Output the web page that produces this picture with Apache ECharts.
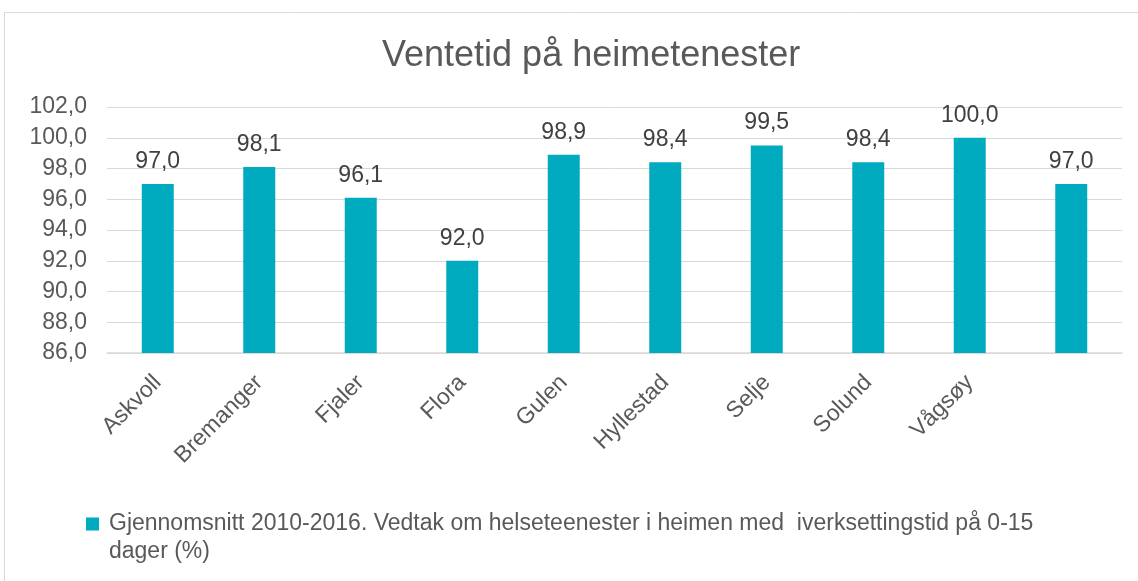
<!DOCTYPE html>
<html>
<head>
<meta charset="utf-8">
<script src="https://cdn.jsdelivr.net/npm/echarts@6/dist/echarts.min.js"></script>
<style>
  html, body { margin: 0; padding: 0; background: #fff; }
  #chart { width: 1138px; height: 581px; }
</style>
</head>
<body>
<div id="chart"></div>
<script>
// data
const categories = ['Askvoll', 'Bremanger', 'Fjaler', 'Flora', 'Gulen', 'Hyllestad', 'Selje', 'Solund', 'Vågsøy', '']
const values = [97.0, 98.1, 96.1, 92.0, 98.9, 98.4, 99.5, 98.4, 100.0, 97.0]
const seriesName = 'Gjennomsnitt 2010-2016. Vedtak om helseteenester i heimen med  iverksettingstid på 0-15 dager (%)'
const yMin = 86
const yMax = 102
const yStep = 2

const font = '"Liberation Sans", Arial, sans-serif'
const comma = v => Number(v).toFixed(1).replace('.', ',')

// legend marker: 13px square at the top of a 13x41 box, so it lines up with the first text line
const legendIcon = 'path://M0,0H13V13H0Z M0,40.99H0.01V41H0Z'

const chart = echarts.init(document.getElementById('chart'), null, { renderer: 'canvas' })

chart.setOption({
  animation: false,
  textStyle: { fontFamily: font },
  title: {
    text: 'Ventetid på heimetenester',
    left: 377,
    top: 33,
    textStyle: { fontFamily: font, fontSize: 36, fontWeight: 'normal', color: '#595959' }
  },
  graphic: [{
    type: 'rect',
    shape: { x: 4.5, y: 12.5, width: 1150, height: 600 },
    style: { fill: 'none', stroke: '#d9d9d9', lineWidth: 1 },
    silent: true
  }],
  grid: {
    left: 107,
    right: 16,
    top: 107,
    bottom: 228,
    containLabel: false
  },
  legend: {
    left: 86,
    top: 510,
    padding: 0,
    icon: legendIcon,
    itemWidth: 13,
    itemHeight: 41,
    data: [seriesName],
    textStyle: {
      fontFamily: font,
      fontSize: 23,
      color: '#595959',
      lineHeight: 28,
      width: 1000,
      overflow: 'break',
      padding: [0, 0, 0, 5]
    }
  },
  xAxis: {
    type: 'category',
    data: categories,
    axisTick: { show: false },
    axisLine: { lineStyle: { color: '#d9d9d9', width: 1.5 } },
    axisLabel: {
      rotate: 45,
      interval: 0,
      margin: 26,
      fontFamily: font,
      fontSize: 23,
      color: '#595959'
    }
  },
  yAxis: {
    type: 'value',
    min: yMin,
    max: yMax,
    interval: yStep,
    axisLine: { show: false },
    axisTick: { show: false },
    splitLine: { lineStyle: { color: '#d9d9d9', width: 1 } },
    axisLabel: {
      margin: 20,
      fontFamily: font,
      fontSize: 23,
      color: '#595959',
      formatter: comma
    }
  },
  series: [{
    name: seriesName,
    type: 'bar',
    data: values,
    barWidth: '31.5%',
    itemStyle: { color: '#00ABBF' },
    label: {
      show: true,
      position: 'top',
      distance: 11,
      fontFamily: font,
      fontSize: 23,
      color: '#404040',
      formatter: p => comma(p.value)
    }
  }]
})
</script>
</body>
</html>
